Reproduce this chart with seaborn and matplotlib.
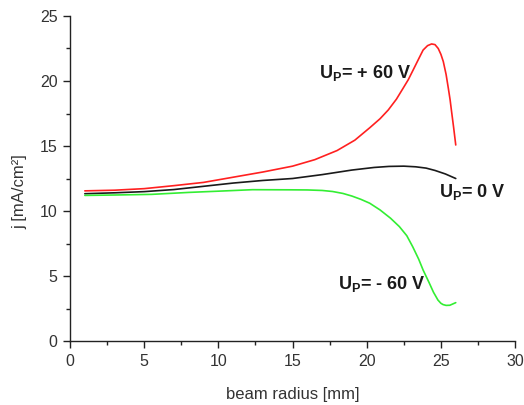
import pandas as pd
import matplotlib
matplotlib.use("Agg")
import matplotlib.pyplot as plt
import seaborn as sns

# beam radius [mm] and current density j [mA/cm^2] for three plate voltages
r_pos = [1, 3, 5, 7, 9, 11, 13, 15, 16.5, 18, 19.2, 20.2, 20.9, 21.45, 22.0, 22.45,
         22.8, 23.13, 23.5, 23.8, 24.1, 24.37, 24.6, 24.82, 25.0, 25.16, 25.35, 25.5,
         25.62, 25.72, 25.86, 26.0]
j_pos = [11.55, 11.6, 11.72, 11.95, 12.2, 12.6, 13.0, 13.45, 13.95, 14.65, 15.45,
         16.4, 17.1, 17.77, 18.6, 19.44, 20.1, 20.85, 21.7, 22.38, 22.72, 22.85,
         22.8, 22.5, 22.05, 21.5, 20.5, 19.44, 18.55, 17.64, 16.4, 15.08]

r_zero = [1, 3, 5, 7, 9, 11, 13, 15, 17, 19, 20.5, 21.5, 22.5, 23.3, 24, 24.6, 25.3, 26]
j_zero = [11.33, 11.4, 11.49, 11.65, 11.9, 12.15, 12.35, 12.5, 12.8, 13.15, 13.35,
          13.43, 13.45, 13.4, 13.3, 13.12, 12.85, 12.5]

r_neg = [1, 3, 5.5, 8, 10.3, 12.3, 14.8, 16, 17, 17.7, 18.4, 19.0, 19.6, 20.2, 20.9,
         21.6, 22.2, 22.7, 23.1, 23.5, 23.8, 24.2, 24.5, 24.8, 25.0, 25.15, 25.35,
         25.6, 25.8, 26]
j_neg = [11.2, 11.23, 11.28, 11.43, 11.54, 11.64, 11.63, 11.62, 11.58, 11.5, 11.35,
         11.15, 10.9, 10.6, 10.08, 9.45, 8.8, 8.1, 7.25, 6.3, 5.46, 4.5, 3.75, 3.15,
         2.9, 2.8, 2.74, 2.75, 2.85, 2.95]

series = ["+60", "0", "-60"]
colors = {"+60": "#ff2020", "0": "#1a1a1a", "-60": "#33ee33"}

df = pd.concat([
    pd.DataFrame({"r": r_pos, "j": j_pos, "U": "+60"}),
    pd.DataFrame({"r": r_zero, "j": j_zero, "U": "0"}),
    pd.DataFrame({"r": r_neg, "j": j_neg, "U": "-60"}),
])

sns.set_style("ticks")
plt.rcParams["font.family"] = ["Liberation Sans", "DejaVu Sans"]
plt.rcParams["mathtext.fontset"] = "custom"
plt.rcParams["mathtext.bf"] = "Liberation Sans:bold"
plt.rcParams["mathtext.rm"] = "Liberation Sans"

fig = plt.figure(figsize=(5.24, 4.05), dpi=100)
ax = fig.add_axes([0.1336, 0.158, 0.8494, 0.8025])

sns.lineplot(data=df, x="r", y="j", hue="U", hue_order=series, palette=colors,
             sort=False, estimator=None, linewidth=1.2, legend=False, ax=ax)

ax.set_xlim(0, 30)
ax.set_ylim(0, 25)
ax.set_xticks(range(0, 31, 5))
ax.set_yticks(range(0, 26, 5))
ax.set_xticks([2.5, 7.5, 12.5, 17.5, 22.5, 27.5], minor=True)
ax.set_yticks([2.5, 7.5, 12.5, 17.5, 22.5], minor=True)
ax.tick_params(which="major", direction="out", length=5, width=1, color="#222222",
               labelsize=11.5, labelcolor="#333333", pad=4)
ax.tick_params(which="minor", direction="out", length=3, width=1, color="#222222")
sns.despine(ax=ax)
for s in ("left", "bottom"):
    ax.spines[s].set_color("#222222")
    ax.spines[s].set_linewidth(1)

ax.set_xlabel("beam radius [mm]", fontsize=12, color="#333333")
ax.set_ylabel("j [mA/cm²]", fontsize=12, color="#333333")
ax.xaxis.set_label_coords(0.5, -0.14)
ax.yaxis.set_label_coords(-0.095, 0.46)

kw = dict(fontsize=13, fontweight="bold", color="#1a1a1a", va="baseline")
ax.text(16.8, 20.25, r"$\mathbf{U_P}$= + 60 V", **kw)
ax.text(24.9, 11.1, r"$\mathbf{U_P}$= 0 V", **kw)
ax.text(18.05, 3.97, r"$\mathbf{U_P}$= - 60 V", **kw)

fig.savefig("out.png", dpi=100)
